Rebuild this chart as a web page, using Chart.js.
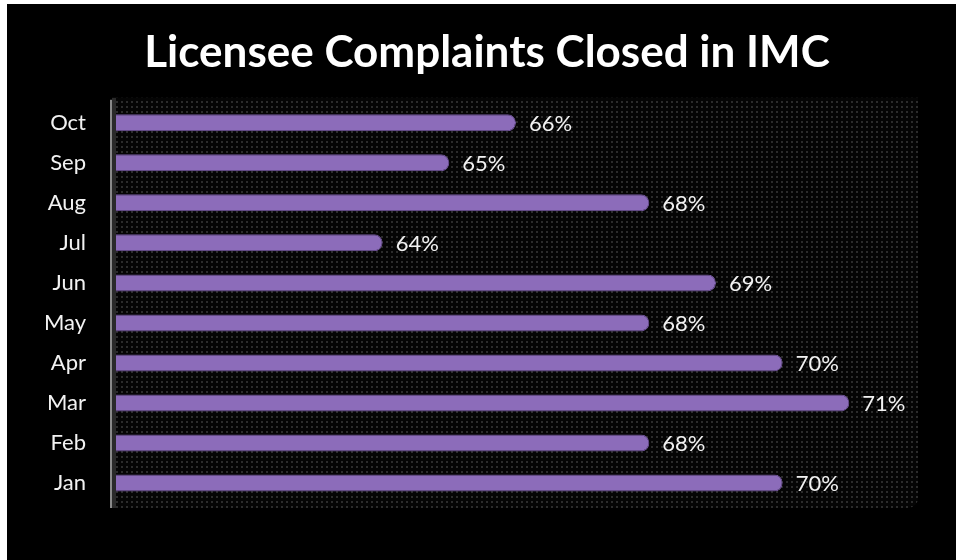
<!DOCTYPE html>
<html lang="en">
<head>
  <meta charset="UTF-8" />
  <title>Licensee Complaints Closed in IMC</title>
  <script src="https://cdn.jsdelivr.net/npm/chart.js"></script>
  <style>
    * { margin: 0; padding: 0; box-sizing: border-box; }
    body { background: #fff; width: 956px; height: 560px; overflow: hidden; }
    #wrap { position: absolute; left: 0; top: 0; width: 956px; height: 560px; }
  </style>
</head>
<body>
  <div id="wrap"><canvas id="chart" width="956" height="560"></canvas></div>
  <script>
    // data
    const months = ['Jan', 'Feb', 'Mar', 'Apr', 'May', 'Jun', 'Jul', 'Aug', 'Sep', 'Oct'];
    const closedPct = [70, 68, 71, 70, 68, 69, 64, 68, 65, 66];
    const axisMin = 60;
    const wallMax = 72;     // right edge of the dotted plot wall
    const axisMax = 72.6;   // leaves room for the value labels

    const FONT = 'Lato, "Open Sans", sans-serif';

    // dotted texture for the plot wall
    function makePattern(ctx) {
      const p = document.createElement('canvas');
      p.width = 5; p.height = 5;
      const pc = p.getContext('2d');
      pc.fillStyle = '#050505';
      pc.fillRect(0, 0, 5, 5);
      pc.fillStyle = '#2c2c2c';
      pc.fillRect(1, 1, 2, 2);
      return ctx.createPattern(p, 'repeat');
    }

    const backdrop = {
      id: 'backdrop',
      beforeDraw(chart) {
        const { ctx, width, height, chartArea: a } = chart;
        const right = chart.scales.x.getPixelForValue(wallMax);
        ctx.save();
        ctx.fillStyle = '#fff';
        ctx.fillRect(0, 0, width, height);
        ctx.fillStyle = '#000';
        ctx.fillRect(7, 4, width - 7, height - 4);
        // plot wall
        ctx.fillStyle = makePattern(ctx);
        ctx.beginPath();
        ctx.roundRect(a.left, a.top - 5, right - a.left + 2, a.bottom - a.top + 10, [0, 0, 10, 0]);
        ctx.fill();
        // left axis wall
        ctx.fillStyle = '#2a2a2a';
        ctx.fillRect(a.left - 4, a.top - 5, 4, a.bottom - a.top + 10);
        ctx.fillStyle = '#8a8a8a';
        ctx.fillRect(a.left - 6, a.top - 3, 2, a.bottom - a.top + 8);
        ctx.restore();
      }
    };

    const valueLabels = {
      id: 'valueLabels',
      afterDatasetsDraw(chart) {
        const { ctx } = chart;
        const meta = chart.getDatasetMeta(0);
        ctx.save();
        ctx.fillStyle = '#f2f2f2';
        ctx.font = '22px ' + FONT;
        ctx.textAlign = 'left';
        ctx.textBaseline = 'middle';
        meta.data.forEach((bar, i) => {
          ctx.fillText(closedPct[i] + '%', bar.x + 13, bar.y + 1);
        });
        ctx.restore();
      }
    };

    new Chart(document.getElementById('chart'), {
      type: 'bar',
      data: {
        labels: months,
        datasets: [{
          data: closedPct,
          backgroundColor: '#8c6cba',
          borderColor: '#6f5399',
          borderWidth: 1,
          borderRadius: 8,
          borderSkipped: 'start',
          barPercentage: 0.85,
          categoryPercentage: 0.5
        }]
      },
      options: {
        indexAxis: 'y',
        responsive: false,
        animation: false,
        layout: { padding: { left: 18, right: 0, top: 0, bottom: 57 } },
        plugins: {
          legend: { display: false },
          tooltip: { enabled: false },
          title: {
            display: true,
            text: 'Licensee Complaints Closed in IMC',
            color: '#fff',
            font: { family: FONT, size: 44, weight: 'bold' },
            padding: { top: 26, bottom: 24 }
          }
        },
        scales: {
          x: {
            display: false,
            min: axisMin,
            max: axisMax
          },
          y: {
            reverse: true,
            grid: { display: false, drawTicks: false },
            border: { display: false },
            ticks: {
              color: '#f2f2f2',
              padding: 30,
              font: { family: FONT, size: 22 }
            },
            afterFit(scale) { scale.width = 98; }
          }
        }
      },
      plugins: [backdrop, valueLabels]
    });
  </script>
</body>
</html>
